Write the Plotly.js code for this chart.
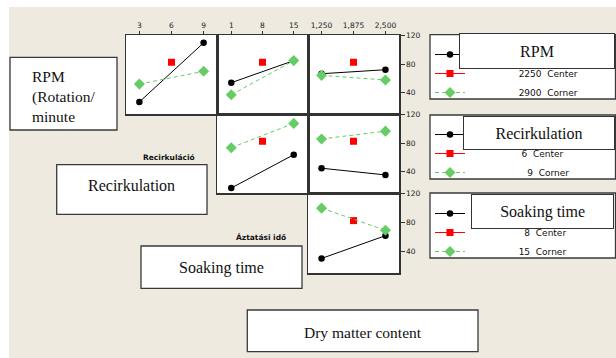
<!DOCTYPE html>
<html><head><meta charset="utf-8">
<script src="https://cdn.plot.ly/plotly-3.0.1.min.js"></script>
<style>html,body{margin:0;padding:0;background:#fff;} #chart{width:616px;height:358px;}</style>
</head><body><div id="chart"></div>
<script>
// ---------- data ----------
const recircLevels = [3, 9];
const recircCenter = [6];
const soakLevels = [1, 15];
const soakCenter = [8];
const speedLevels = [1250, 2500];
const speedCenter = [1875];
const centerValue = [82.7];

const recircTicks = [3, 6, 9];
const soakTicks = [1, 8, 15];
const speedTicks = [1250, 1875, 2500];
const speedTickText = ['1,250', '1,875', '2,500'];
const yTicks = [40, 80, 120];

// Row 1: RPM (low = black, high = green)
const rpmLow_vsRecirc = [27, 110];
const rpmHigh_vsRecirc = [52, 70];
const rpmLow_vsSoak = [54, 85];
const rpmHigh_vsSoak = [37, 85];
const rpmLow_vsSpeed = [66.6, 72.2];
const rpmHigh_vsSpeed = [64.3, 57.8];
// Row 2: Recirculation
const recLow_vsSoak = [17, 63.8];
const recHigh_vsSoak = [73.7, 107.8];
const recLow_vsSpeed = [44.8, 35.4];
const recHigh_vsSpeed = [86, 96.9];
// Row 3: Soaking time
const soakLow_vsSpeed = [30.2, 61.8];
const soakHigh_vsSpeed = [100, 69.2];

const rpmNames = ['1600\u00A0 Corner', '2250\u00A0 Center', '2900\u00A0 Corner'];
const recNames = ['3\u00A0 Corner', '6\u00A0 Center', '9\u00A0 Corner'];
const soakNames = ['1\u00A0 Corner', '8\u00A0 Center', '15\u00A0 Corner'];

// ---------- helpers ----------
const W = 616, H = 358;
const px = v => v / W;
const py = v => 1 - v / H;
const pad = n => '\u00A0'.repeat(n);
const BLACK = '#000000', RED = '#FF0000', GREEN = '#66CC66';

const traces = [];
function panel(xa, ya, xs, xc, low, high, names, legendId, showLeg, padN) {
  traces.push({x: xs, y: low, xaxis: xa, yaxis: ya, mode: 'lines+markers', type: 'scatter',
    name: pad(padN[0]) + names[0], legend: legendId, showlegend: showLeg, legendgroup: legendId + 'a',
    line: {color: BLACK, width: 1}, marker: {symbol: 'circle', size: 6.5, color: BLACK}});
  traces.push({x: xc, y: centerValue, xaxis: xa, yaxis: ya, mode: 'lines+markers', type: 'scatter',
    name: pad(padN[1]) + names[1], legend: legendId, showlegend: showLeg, legendgroup: legendId + 'b',
    line: {color: RED, width: 1}, marker: {symbol: 'square', size: 7, color: RED}});
  traces.push({x: xs, y: high, xaxis: xa, yaxis: ya, mode: 'lines+markers', type: 'scatter',
    name: pad(padN[2]) + names[2], legend: legendId, showlegend: showLeg, legendgroup: legendId + 'c',
    line: {color: GREEN, width: 1, dash: '4px,3px'}, marker: {symbol: 'diamond', size: 8.5, color: GREEN}});
}
const rpmPad = [17, 17, 17], recPad = [20, 18, 20], soakPad = [19, 19, 17];
panel('x', 'y', recircLevels, recircCenter, rpmLow_vsRecirc, rpmHigh_vsRecirc, rpmNames, 'legend', true, rpmPad);
panel('x2', 'y2', soakLevels, soakCenter, rpmLow_vsSoak, rpmHigh_vsSoak, rpmNames, 'legend', false, rpmPad);
panel('x3', 'y3', speedLevels, speedCenter, rpmLow_vsSpeed, rpmHigh_vsSpeed, rpmNames, 'legend', false, rpmPad);
panel('x4', 'y4', soakLevels, soakCenter, recLow_vsSoak, recHigh_vsSoak, recNames, 'legend2', true, recPad);
panel('x5', 'y5', speedLevels, speedCenter, recLow_vsSpeed, recHigh_vsSpeed, recNames, 'legend2', false, recPad);
panel('x6', 'y6', speedLevels, speedCenter, soakLow_vsSpeed, soakHigh_vsSpeed, soakNames, 'legend3', true, soakPad);

const tickFont = {family: 'DejaVu Sans', size: 7.5, color: '#222'};
const cols = [[126, 217], [217, 308], [308, 399]];
const rows = [[35, 114], [114, 193], [193, 273]];
const xRanges = [[1.75, 10.25], [-2.2, 18.2], [985, 2765]];
const yRange = [10, 121];

function xAxis(col, row, ya, tickvals, ticktext, labels) {
  return {domain: [px(cols[col][0]), px(cols[col][1])], anchor: ya, range: xRanges[col],
    tickmode: 'array', tickvals: tickvals, ticktext: ticktext, side: 'top',
    showticklabels: labels, ticks: labels ? 'outside' : '', ticklen: 3, tickwidth: 1, tickcolor: '#333',
    showgrid: false, zeroline: false, showline: true, linecolor: '#333', linewidth: 1.5, mirror: true,
    tickfont: tickFont, fixedrange: true};
}
function yAxis(col, row, xa, labels) {
  return {domain: [py(rows[row][1]), py(rows[row][0])], anchor: xa, range: yRange,
    tickmode: 'array', tickvals: yTicks, side: 'right',
    showticklabels: labels, ticks: labels ? 'outside' : '', ticklen: 4, tickwidth: 1, tickcolor: '#333',
    showgrid: false, zeroline: false, showline: true, linecolor: '#333', linewidth: 1.5, mirror: true,
    tickfont: tickFont, fixedrange: true};
}

const boxLine = {color: '#3a3a3a', width: 1.3};
function rect(x0, x1, y0, y1, layer) {
  return {type: 'rect', xref: 'paper', yref: 'paper', x0: px(x0), x1: px(x1), y0: py(y1), y1: py(y0),
    fillcolor: '#FFFFFF', line: boxLine, layer: layer || 'below'};
}
const shapes = [
  {type: 'rect', xref: 'paper', yref: 'paper', x0: 0, x1: px(9), y0: 0, y1: 1, fillcolor: '#FFFFFF', line: {width: 0}, layer: 'below'},
  {type: 'rect', xref: 'paper', yref: 'paper', x0: 0, x1: 1, y0: py(7), y1: 1, fillcolor: '#FFFFFF', line: {width: 0}, layer: 'below'},
  rect(10, 117, 57.3, 130),
  rect(56.7, 207, 164.7, 214.3),
  rect(141, 302, 246, 288.3),
  rect(247.3, 478, 310, 351.7),
  rect(430, 615.5, 34.7, 99),
  rect(430, 615.5, 115, 179),
  rect(430, 615.5, 193, 258)
];

const serif = 'Liberation Serif, Times New Roman, serif';
function labelBox(text, x0, x1, y0, y1) {
  return {text: text, xref: 'paper', yref: 'paper', x: px(x0), y: py(y0), xanchor: 'left', yanchor: 'top',
    width: x1 - x0 - 2, height: y1 - y0 - 2, showarrow: false, bgcolor: '#FFFFFF', bordercolor: '#333',
    borderwidth: 1, borderpad: 0, align: 'center', valign: 'middle',
    font: {family: serif, size: 16, color: '#111'}};
}
function txt(text, x, y, opts) {
  return Object.assign({text: text, xref: 'paper', yref: 'paper', x: px(x), y: py(y), xanchor: 'center', yanchor: 'middle',
    showarrow: false, font: {family: serif, size: 16, color: '#111'}}, opts || {});
}
const boldFont = {family: 'DejaVu Sans', size: 7.5, color: '#111', weight: 700};
const annotations = [
  txt('Recirkuláció', 169.4, 157.7, {font: boldFont}),
  txt('Áztatási idő', 261.2, 237.7, {font: boldFont}),
  txt('RPM<br>(Rotation/<br>minute', 30, 97, {xanchor: 'left', align: 'left', font: {family: serif, size: 15.5, color: '#111'}}),
  txt('Recirkulation', 131.8, 186),
  txt('Soaking time', 221.3, 267.5),
  txt('Dry matter content', 363.3, 332.5, {font: {family: serif, size: 15.5, color: '#111'}}),
  labelBox('RPM', 459, 615, 33, 69),
  labelBox('Recirkulation', 463, 615, 115.7, 150),
  labelBox('Soaking time', 470.7, 614, 194, 229)
];

const legFont = {family: 'DejaVu Sans', size: 9, color: '#111'};
function leg(top) {
  return {x: px(430), y: py(top), xanchor: 'left', yanchor: 'top', bgcolor: 'rgba(0,0,0,0)',
    borderwidth: 0, font: legFont, traceorder: 'normal'};
}

const layout = {
  width: W, height: H, margin: {l: 0, r: 0, t: 0, b: 0},
  paper_bgcolor: '#EEEAE0', plot_bgcolor: '#FFFFFF', showlegend: true, hovermode: false,
  xaxis: xAxis(0, 0, 'y', recircTicks, recircTicks.map(String), true),
  yaxis: yAxis(0, 0, 'x', false),
  xaxis2: xAxis(1, 0, 'y2', soakTicks, soakTicks.map(String), true),
  yaxis2: yAxis(1, 0, 'x2', false),
  xaxis3: xAxis(2, 0, 'y3', speedTicks, speedTickText, true),
  yaxis3: yAxis(2, 0, 'x3', true),
  xaxis4: xAxis(1, 1, 'y4', soakTicks, soakTicks.map(String), false),
  yaxis4: yAxis(1, 1, 'x4', false),
  xaxis5: xAxis(2, 1, 'y5', speedTicks, speedTickText, false),
  yaxis5: yAxis(2, 1, 'x5', true),
  xaxis6: xAxis(2, 2, 'y6', speedTicks, speedTickText, false),
  yaxis6: yAxis(2, 2, 'x6', true),
  legend: leg(40), legend2: leg(120), legend3: leg(199),
  shapes: shapes, annotations: annotations
};
Plotly.newPlot('chart', traces, layout, {staticPlot: true, displayModeBar: false});
</script></body></html>
